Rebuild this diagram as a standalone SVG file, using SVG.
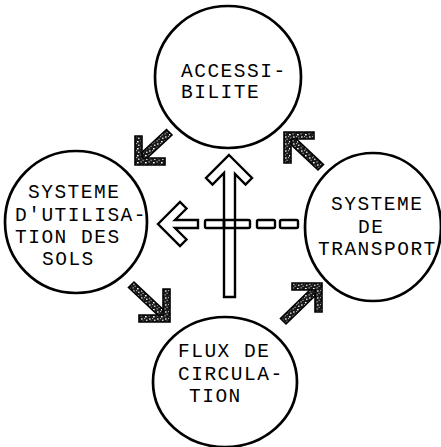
<svg xmlns="http://www.w3.org/2000/svg" width="441" height="447" viewBox="0 0 441 447">
  <defs>
    <!-- mottled ink fill used by the diagonal arrows -->
    <pattern id="ink" width="8" height="7" patternUnits="userSpaceOnUse">
      <rect width="8" height="7" fill="#1a1a1a"/>
      <rect x="1" y="1" width="1.6" height="1.4" fill="#fff"/>
      <rect x="4.6" y="0.4" width="1" height="1" fill="#fff"/>
      <rect x="5" y="3.4" width="1.6" height="1.2" fill="#fff"/>
      <rect x="2.2" y="4.6" width="1.2" height="1.4" fill="#fff"/>
      <rect x="0.2" y="3.2" width="0.9" height="0.9" fill="#fff"/>
      <rect x="6.6" y="5.8" width="1" height="0.9" fill="#fff"/>
    </pattern>
    <style>
      .ring { fill: none; stroke: #000; stroke-width: 2.7; }
      .lbl { font-family: "Liberation Mono", "DejaVu Sans Mono", monospace; font-size: 19.5px; letter-spacing: 1.5px; fill: #000; }
      .hollow { fill: #fff; stroke: #000; stroke-width: 2.4; stroke-linejoin: miter; }
      .dash { fill: none; stroke: #000; stroke-width: 2.4; }
      .shade { fill: url(#ink); stroke: #000; stroke-width: 1.6; stroke-linejoin: miter; }
    </style>
  </defs>

  <g id="accessibilite">
    <ellipse class="ring" cx="228" cy="77" rx="73" ry="71"/>
    <text class="lbl" x="181" y="77">ACCESSI-</text>
    <text class="lbl" x="181" y="98">BILITE</text>
  </g>

  <g id="utilisation-sols">
    <circle class="ring" cx="76" cy="222" r="71"/>
    <text class="lbl" x="28" y="198">SYSTEME</text>
    <text class="lbl" x="15" y="221">D'UTILISA-</text>
    <text class="lbl" x="15" y="243">TION DES</text>
    <text class="lbl" x="42" y="265">SOLS</text>
  </g>

  <g id="transport">
    <ellipse class="ring" cx="373" cy="227" rx="68" ry="74"/>
    <text class="lbl" x="331" y="210">SYSTEME</text>
    <text class="lbl" x="358" y="233">DE</text>
    <text class="lbl" x="318" y="255">TRANSPORT</text>
  </g>

  <g id="flux-circulation">
    <ellipse class="ring" cx="225" cy="382" rx="72" ry="65"/>
    <text class="lbl" x="178" y="357">FLUX DE</text>
    <text class="lbl" x="178" y="380">CIRCULA-</text>
    <text class="lbl" x="189" y="402">TION</text>
  </g>

  <g id="connectors">
    <!-- hollow upward arrow from flux to accessibility -->
    <polygon class="hollow" points="229,155 252,178 245.5,184.5 235,174 235,297 224,297 224,173 212.5,184.5 206,178"/>
    <!-- dashed hollow arrow from transport to land use -->
    <polygon class="hollow" points="158,224 180,202 186.5,208.5 175,220 198,220 198,228 175,228 186.5,239.5 180,246"/>
    <rect class="dash" x="205" y="220" width="19" height="8" rx="1.5"/>
    <rect class="dash" x="224" y="220" width="26" height="8" rx="1.5"/>
    <rect class="dash" x="257" y="220" width="18" height="8" rx="1.5"/>
    <rect class="dash" x="280" y="220" width="18" height="8" rx="1.5"/>

    <!-- shaded diagonal arrows -->
    <g id="arrow-access-to-landuse">
      <polygon class="shade" points="138.5,155.5 166.5,129.5 172,135 144,161"/>
      <polygon class="shade" points="135,136 142,136 142,158 165,158 165,165 135,165"/>
    </g>
    <g id="arrow-transport-to-access">
      <polygon class="shade" points="290.5,133.5 323.5,164.5 318,170 285,139"/>
      <polygon class="shade" points="284,132 314,132 314,139 291,139 291,163 284,163"/>
    </g>
    <g id="arrow-landuse-to-flux">
      <polygon class="shade" points="128.5,287.5 163.5,320.5 169,315 134,282"/>
      <polygon class="shade" points="170,289 170,322 139,322 139,315 163,315 163,289"/>
    </g>
    <g id="arrow-flux-to-transport">
      <polygon class="shade" points="315.5,284.5 280.5,318.5 286,324 321,290"/>
      <polygon class="shade" points="292,283 322,283 322,312 315,312 315,290 292,290"/>
    </g>
  </g>
</svg>
